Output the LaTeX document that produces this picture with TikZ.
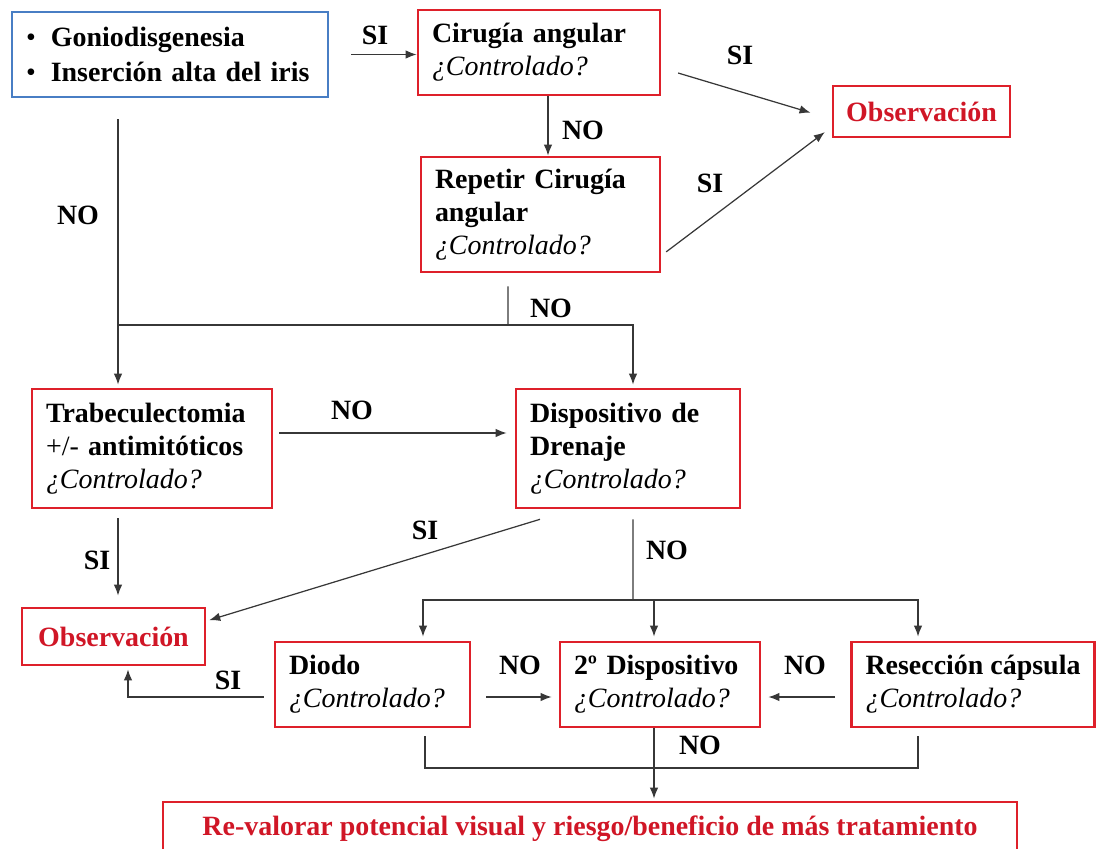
\documentclass[tikz,border=0pt]{standalone}
\usepackage{fontspec}
\setmainfont{Liberation Serif}
\usetikzlibrary{arrows.meta}
\definecolor{boxred}{RGB}{222,32,42}
\definecolor{obsred}{RGB}{208,22,38}
\definecolor{boxblue}{RGB}{72,126,196}
\definecolor{linegray}{RGB}{55,55,55}
\newcommand{\boxfont}{\bfseries\fontsize{15.9}{18.8}\selectfont}
\newcommand{\contr}{{\mdseries\itshape ¿Controlado?}}

\begin{document}
\begin{tikzpicture}[x=0.02cm,y=-0.02cm,
  box/.style={draw=boxred,line width=1.6pt,inner xsep=0.28cm,align=left,font=\boxfont},
  obsbox/.style={draw=boxred,line width=1.6pt,text=obsred,font=\boxfont},
  lbl/.style={font=\boxfont},
  ln/.style={draw=linegray,line width=0.7pt},
  arr/.style={ln,-{Latex[length=2.2mm,width=1.7mm]}}]
\useasboundingbox (0,0) rectangle (1097,848);
%boxes
\node[box,draw=boxblue,line width=1.3pt,minimum width=6.32cm,minimum height=1.7cm,text width=5.76cm,font=\bfseries\fontsize{15.9}{19.9}\selectfont] (gonio) at (170,54.5)
  {{\mdseries\textbullet}\hspace{0.3cm}Goniodisgenesia\\{\mdseries\textbullet}\hspace{0.3cm}Inserción alta del iris};
\node[box,minimum width=4.84cm,minimum height=1.7cm,text width=4.28cm] (cirugia) at (539,52.5) {Cirugía angular\\\contr};
\node[obsbox,minimum width=3.54cm,minimum height=1.02cm] (obs1) at (921.5,111.5) {Observación};
\node[box,minimum width=4.78cm,minimum height=2.3cm,text width=4.22cm] (repetir) at (540.5,214.5) {Repetir Cirugía\\angular\\\contr};
\node[box,minimum width=4.8cm,minimum height=2.38cm,text width=4.24cm] (trab) at (152,448.5) {Trabeculectomia\\{\mdseries +/-} antimitóticos\\\contr};
\node[box,minimum width=4.48cm,minimum height=2.38cm,text width=3.92cm] (disp) at (628,448.5) {Dispositivo de\\Drenaje\\\contr};
\node[obsbox,minimum width=3.66cm,minimum height=1.14cm] (obs2) at (113.5,636.5) {Observación};
\node[box,minimum width=3.9cm,minimum height=1.7cm,text width=3.34cm] (diodo) at (372.5,684.5) {Diodo\\\contr};
\node[box,minimum width=4cm,minimum height=1.7cm,text width=3.44cm] (disp2) at (660,684.5) {2º Dispositivo\\\contr};
\node[box,minimum width=4.8cm,minimum height=1.7cm] (resec) at (973,684.5) {Resección cápsula\\\contr};
\node[box,align=center,text=obsred,minimum width=17.08cm,minimum height=1.08cm] (final) at (590,829)
  {Re-valorar potencial visual y riesgo/beneficio de más tratamiento};

%top row
\draw[arr,shorten <=0.44cm] (gonio.east) -- (gonio.east -| cirugia.west);
\node[lbl] (si1) at (375,35) {SI};
\draw[arr,shorten <=0.35cm,shorten >=0.44cm] ([yshift=-0.31cm]cirugia.east) -- ([yshift=-0.15cm]obs1.west);
\node[lbl] (si2) at (740,55) {SI};
\draw[arr] ([xshift=0.18cm]cirugia.south) -- ([xshift=0.18cm]cirugia.south |- repetir.north);
\node[lbl] (no1) at (583,130) {NO};
\draw[arr,shorten <=0.12cm,shorten >=0.17cm] ([yshift=-0.82cm]repetir.east) -- ([yshift=-0.31cm]obs1.west);
\node[lbl] (si3) at (710,183) {SI};

%left column
\draw[arr,shorten <=0.42cm,shorten >=0.06cm] ([xshift=-1.04cm]gonio.south) -- ([xshift=-1.04cm]gonio.south |- trab.north);
\node[lbl] (no2) at (78,215) {NO};
\coordinate (join) at (508,325);
\draw[ln,shorten <=0.26cm] ([xshift=-0.65cm]repetir.south) -- (join);
\draw[ln] (join) -- ([xshift=-1.04cm]gonio.south |- join);
\draw[arr,shorten >=0.06cm] (join) -| ([xshift=0.1cm]disp.north);
\node[lbl] (no3) at (551,308) {NO};

%middle
\draw[arr,shorten <=0.12cm,shorten >=0.16cm] ([yshift=0.31cm]trab.east) -- ([yshift=0.31cm]trab.east -| disp.west);
\node[lbl] (no4) at (352,410) {NO};
\draw[arr,shorten <=0.18cm,shorten >=0.22cm] ([xshift=-0.68cm]trab.south) -- ([xshift=-0.68cm]trab.south |- obs2.north);
\node[lbl] (si4) at (97,560) {SI};
\draw[arr,shorten <=0.68cm,shorten >=0.06cm] ([xshift=-1.11cm]disp.south) -- ([yshift=0.31cm]obs2.east);
\node[lbl] (si5) at (425,530) {SI};
\coordinate (split) at (633,600);
\draw[ln,shorten <=0.2cm] ([xshift=0.1cm]disp.south) -- (split);
\draw[arr,shorten >=0.08cm] (split) -| ([xshift=1.01cm]diodo.north);
\draw[arr,shorten >=0.08cm] (split) -| ([xshift=-1.1cm]resec.north);
\draw[arr,shorten >=0.08cm] ([xshift=-0.12cm]disp2.north |- split) -- ([xshift=-0.12cm]disp2.north);
\node[lbl] (no5) at (667,550) {NO};

%bottom row
\draw[arr,shorten <=0.3cm,shorten >=0.14cm] ([yshift=-0.25cm]diodo.east) -- ([yshift=-0.25cm]diodo.east -| disp2.west);
\node[lbl] (no6) at (520,665) {NO};
\draw[arr,shorten <=0.3cm,shorten >=0.14cm] ([yshift=-0.25cm]resec.west) -- ([yshift=-0.25cm]resec.west -| disp2.east);
\node[lbl] (no7) at (805,665) {NO};
\draw[arr,shorten <=0.2cm,shorten >=0.06cm] ([yshift=-0.25cm]diodo.west) -| ([xshift=0.29cm]obs2.south);
\node[lbl] (si6) at (228,680) {SI};
\coordinate (merge) at (654,768);
\draw[ln,shorten <=0.16cm,shorten >=0.16cm] ([xshift=1.05cm]diodo.south) |- (merge) -| ([xshift=-1.1cm]resec.south);
\draw[arr,shorten >=0.04cm] ([xshift=-0.12cm]disp2.south) -- ([xshift=-0.12cm]disp2.south |- final.north);
\node[lbl] (no8) at (700,745) {NO};
\end{tikzpicture}
\end{document}
